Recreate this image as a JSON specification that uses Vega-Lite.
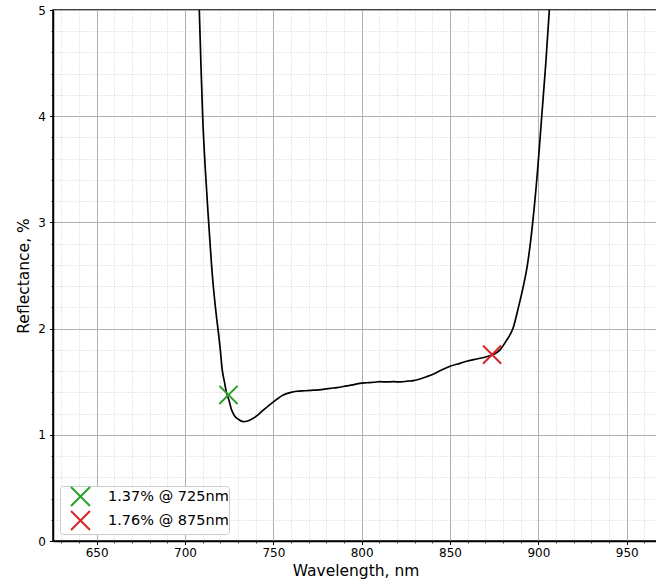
{
  "$schema": "https://vega.github.io/schema/vega-lite/v6.json",
  "autosize": "none",
  "padding": {"left": 53, "top": 10, "right": 0, "bottom": 45},
  "width": 605,
  "height": 531,
  "background": "white",
  "config": {
    "font": "DejaVu Sans",
    "view": {"stroke": "#000000", "strokeWidth": 1.5},
    "legend": {
      "orient": "bottom-left",
      "offset": 7,
      "fillColor": "white",
      "strokeColor": "#cccccc",
      "cornerRadius": 3,
      "padding": 0,
      "symbolOffset": 10,
      "labelFontSize": 14.5,
      "labelColor": "#000000",
      "labelOffset": 17,
      "symbolSize": 360,
      "symbolStrokeWidth": 2,
      "symbolType": "M-1,-1L1,1M-1,1L1,-1",
      "symbolFillColor": "transparent",
      "rowPadding": -5
    }
  },
  "datasets": {
    "curve": [
      {"wl": 706.3, "refl": 6.0},
      {"wl": 708.1, "refl": 5.0},
      {"wl": 709.0, "refl": 4.5},
      {"wl": 710.0, "refl": 4.0},
      {"wl": 711.5, "refl": 3.5},
      {"wl": 713.4, "refl": 3.0},
      {"wl": 715.5, "refl": 2.5},
      {"wl": 717.9, "refl": 2.1},
      {"wl": 719.0, "refl": 1.95},
      {"wl": 719.8, "refl": 1.83},
      {"wl": 721.1, "refl": 1.61},
      {"wl": 722.3, "refl": 1.5},
      {"wl": 723.6, "refl": 1.39},
      {"wl": 724.8, "refl": 1.33},
      {"wl": 726.4, "refl": 1.233},
      {"wl": 728.0, "refl": 1.18},
      {"wl": 730.2, "refl": 1.146},
      {"wl": 733.0, "refl": 1.124},
      {"wl": 735.5, "refl": 1.13},
      {"wl": 738.6, "refl": 1.155},
      {"wl": 741.5, "refl": 1.19},
      {"wl": 744.3, "refl": 1.233},
      {"wl": 747.0, "refl": 1.27},
      {"wl": 750.0, "refl": 1.31},
      {"wl": 755.6, "refl": 1.375},
      {"wl": 760.0, "refl": 1.4},
      {"wl": 763.2, "refl": 1.41},
      {"wl": 768.0, "refl": 1.415},
      {"wl": 772.6, "refl": 1.42},
      {"wl": 777.0, "refl": 1.425},
      {"wl": 782.0, "refl": 1.437},
      {"wl": 786.0, "refl": 1.445},
      {"wl": 791.4, "refl": 1.46},
      {"wl": 795.0, "refl": 1.47},
      {"wl": 799.0, "refl": 1.485},
      {"wl": 803.0, "refl": 1.49},
      {"wl": 807.0, "refl": 1.495},
      {"wl": 810.3, "refl": 1.5},
      {"wl": 814.0, "refl": 1.498},
      {"wl": 817.9, "refl": 1.5},
      {"wl": 822.0, "refl": 1.498},
      {"wl": 826.0, "refl": 1.505},
      {"wl": 829.2, "refl": 1.51},
      {"wl": 833.0, "refl": 1.525},
      {"wl": 836.7, "refl": 1.547},
      {"wl": 841.0, "refl": 1.575},
      {"wl": 846.1, "refl": 1.617},
      {"wl": 850.0, "refl": 1.645},
      {"wl": 855.6, "refl": 1.673},
      {"wl": 860.0, "refl": 1.695},
      {"wl": 865.0, "refl": 1.714},
      {"wl": 870.7, "refl": 1.735},
      {"wl": 875.0, "refl": 1.76},
      {"wl": 878.3, "refl": 1.8},
      {"wl": 882.0, "refl": 1.89},
      {"wl": 885.6, "refl": 2.0},
      {"wl": 888.7, "refl": 2.2},
      {"wl": 891.5, "refl": 2.4},
      {"wl": 893.8, "refl": 2.6},
      {"wl": 896.8, "refl": 3.0},
      {"wl": 899.6, "refl": 3.5},
      {"wl": 901.9, "refl": 4.0},
      {"wl": 904.2, "refl": 4.5},
      {"wl": 906.2, "refl": 5.0},
      {"wl": 909.5, "refl": 6.0}
    ],
    "marks": [
      {"wl": 724.6, "refl": 1.375, "label": "1.37% @ 725nm"},
      {"wl": 873.8, "refl": 1.755, "label": "1.76% @ 875nm"}
    ]
  },
  "layer": [
    {
      "data": {"name": "curve"},
      "mark": {"type": "line", "color": "#000000", "strokeWidth": 1.7, "clip": true, "interpolate": "monotone"},
      "encoding": {
        "x": {
          "field": "wl", "type": "quantitative",
          "scale": {"domain": [625.3, 967.7], "nice": false, "zero": false},
          "axis": {
            "title": "Wavelength, nm",
            "tickCount": 500,
            "values": [630, 640, 650, 660, 670, 680, 690, 700, 710, 720, 730, 740, 750, 760, 770, 780, 790, 800, 810, 820, 830, 840, 850, 860, 870, 880, 890, 900, 910, 920, 930, 940, 950, 960],
            "labelExpr": "datum.value % 50 === 0 ? format(datum.value, 'd') : ''",
            "labelOverlap": false,
            "labelFontSize": 12,
            "labelColor": "#000000",
            "labelPadding": 3,
            "titleFontSize": 15.5,
            "titleFontWeight": "normal",
            "titleColor": "#000000",
            "titlePadding": 5,
            "domainColor": "#000000",
            "domainWidth": 1.5,
            "tickColor": "#000000",
            "tickSize": {"condition": {"test": "datum.value % 50 === 0", "value": 3.5}, "value": 2},
            "tickWidth": {"condition": {"test": "datum.value % 50 === 0", "value": 1}, "value": 0.7},
            "grid": true,
            "gridColor": {"condition": {"test": "datum.value % 50 === 0", "value": "#b0b0b0"}, "value": "#c4c4c4"},
            "gridDash": {"condition": {"test": "datum.value % 50 === 0", "value": []}, "value": [1, 2]},
            "gridWidth": {"condition": {"test": "datum.value % 50 === 0", "value": 1}, "value": 0.8}
          }
        },
        "y": {
          "field": "refl", "type": "quantitative",
          "scale": {"domain": [0, 5], "nice": false},
          "axis": {
            "title": "Reflectance, %",
            "tickCount": 500,
            "values": [0, 0.2, 0.4, 0.6, 0.8, 1, 1.2, 1.4, 1.6, 1.8, 2, 2.2, 2.4, 2.6, 2.8, 3, 3.2, 3.4, 3.6, 3.8, 4, 4.2, 4.4, 4.6, 4.8, 5],
            "labelExpr": "datum.value % 1 === 0 ? format(datum.value, 'd') : ''",
            "labelOverlap": false,
            "labelFontSize": 12,
            "labelColor": "#000000",
            "labelPadding": 4,
            "titleFontSize": 15.5,
            "titleFontWeight": "normal",
            "titleColor": "#000000",
            "titlePadding": 6,
            "domainColor": "#000000",
            "domainWidth": 1.5,
            "tickColor": "#000000",
            "tickSize": {"condition": {"test": "datum.value % 1 === 0", "value": 3.5}, "value": 2},
            "tickWidth": {"condition": {"test": "datum.value % 1 === 0", "value": 1}, "value": 0.7},
            "grid": true,
            "gridColor": {"condition": {"test": "datum.value % 1 === 0", "value": "#b0b0b0"}, "value": "#c4c4c4"},
            "gridDash": {"condition": {"test": "datum.value % 1 === 0", "value": []}, "value": [1, 2]},
            "gridWidth": {"condition": {"test": "datum.value % 1 === 0", "value": 1}, "value": 0.8}
          }
        }
      }
    },
    {
      "data": {"name": "marks"},
      "mark": {"type": "point", "shape": "M-1,-1L1,1M-1,1L1,-1", "filled": false, "strokeWidth": 2, "size": 330, "opacity": 1},
      "encoding": {
        "x": {"field": "wl", "type": "quantitative"},
        "y": {"field": "refl", "type": "quantitative"},
        "color": {
          "field": "label", "type": "nominal",
          "scale": {"domain": ["1.37% @ 725nm", "1.76% @ 875nm"], "range": ["#2ca02c", "#d62728"]},
          "legend": {"title": null}
        }
      }
    }
  ]
}
